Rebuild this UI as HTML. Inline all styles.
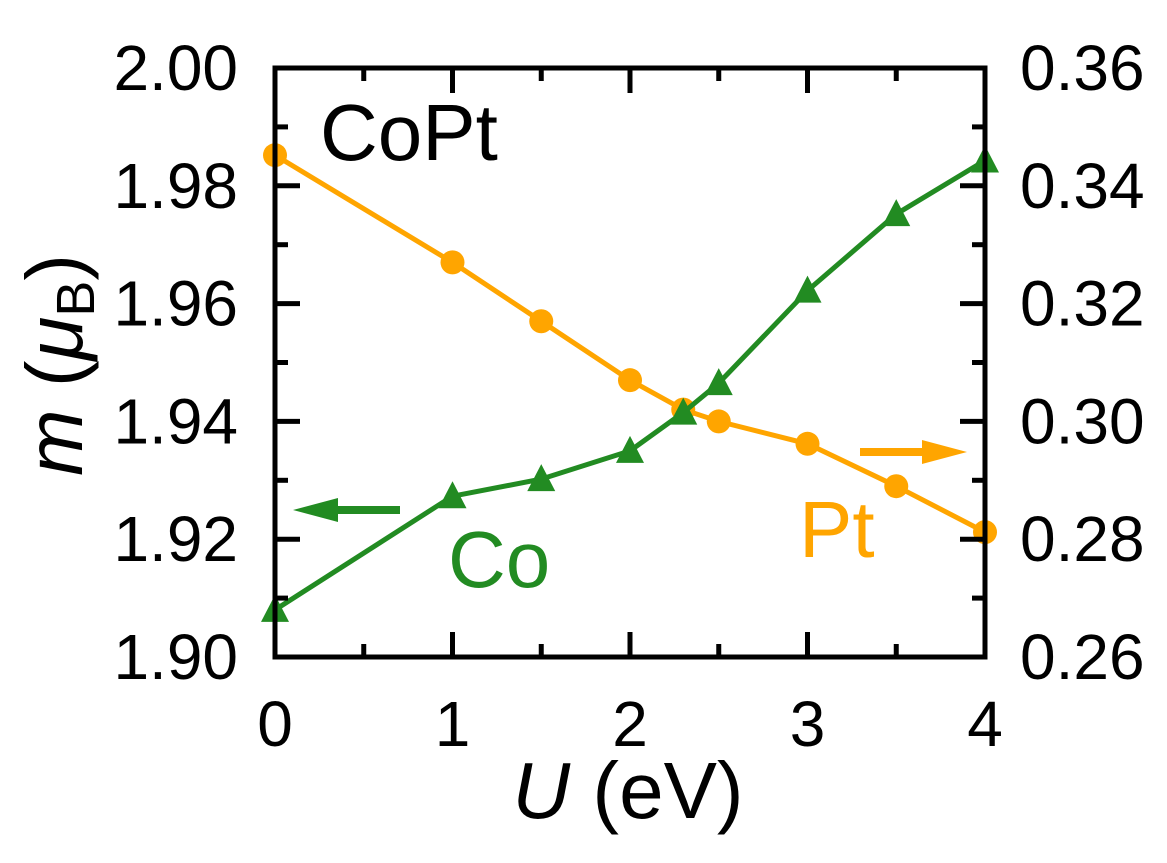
<!DOCTYPE html>
<html><head><meta charset="utf-8"><style>
html,body{margin:0;padding:0;background:#fff;}
svg{display:block;font-family:"Liberation Sans",Arial,sans-serif;}
</style></head><body>
<svg id="chart" width="1167" height="863" viewBox="0 0 1167 863" xmlns="http://www.w3.org/2000/svg">
<g id="marks"></g>
<g id="axes"></g>
</svg>
<script>
const uValues = [0, 1, 1.5, 2, 2.3, 2.5, 3, 3.5, 4];
const coMoments = [1.908, 1.9273, 1.9302, 1.935, 1.9415, 1.9465, 1.9622, 1.9752, 1.9843];
const ptMoments = [0.3452, 0.3270, 0.3170, 0.3070, 0.3020, 0.3000, 0.2962, 0.2890, 0.2812];
const xTicks = [0, 1, 2, 3, 4];
const leftTicks = ["1.90","1.92","1.94","1.96","1.98","2.00"];
const rightTicks = ["0.26","0.28","0.30","0.32","0.34","0.36"];

const L=275,R=985,T=68,B=657;
const NS="http://www.w3.org/2000/svg";
const xs=u=>L+(u-0)/(4-0)*(R-L);
const yl=v=>B-(v-1.90)/(2.00-1.90)*(B-T);
const yr=v=>B-(v-0.26)/(0.36-0.26)*(B-T);
const marks=document.getElementById('marks'), axes=document.getElementById('axes');
function mk(tag,attrs,parent){const e=document.createElementNS(NS,tag);for(const k in attrs)e.setAttribute(k,attrs[k]);parent.appendChild(e);return e;}

const ptLine=mk('polyline',{points:uValues.map((u,i)=>xs(u)+','+yr(ptMoments[i])).join(' '),fill:'none',stroke:'#FFA500','stroke-width':5},marks);


uValues.forEach((u,i)=>{
  const c=mk('circle',{cx:xs(u),cy:yr(ptMoments[i]),r:12,fill:'#FFA500'},marks);
  
  
});
const coLine=mk('polyline',{points:uValues.map((u,i)=>xs(u)+','+yl(coMoments[i])).join(' '),fill:'none',stroke:'#228B22','stroke-width':5},marks);


uValues.forEach((u,i)=>{
  const x=xs(u),y=yl(coMoments[i]);
  const p=mk('polygon',{points:`${x-14},${y+12} ${x+14},${y+12} ${x},${y-15}`,fill:'#228B22'},marks);
  
  
});

const fr=mk('rect',{x:L,y:T,width:R-L,height:B-T,fill:'none',stroke:'#000','stroke-width':5},axes);


for(let k=0;k<=8;k++){
  const u=k*0.5,x=xs(u),len=(k%2==0)?25:13;
  const t1=mk('line',{x1:x,y1:B,x2:x,y2:B-len,stroke:'#000','stroke-width':5},axes);
  
  
  const t2=mk('line',{x1:x,y1:T,x2:x,y2:T+len,stroke:'#000','stroke-width':5},axes);
  
  
}
xTicks.forEach(u=>{
  const t=mk('text',{x:xs(u),y:746,'font-size':64,'text-anchor':'middle'},axes);t.textContent=u;
  
  
});
for(let k=0;k<=10;k++){
  const y=B-k/10*(B-T),len=(k%2==0)?25:13;
  const a=mk('line',{x1:L,y1:y,x2:L+len,y2:y,stroke:'#000','stroke-width':5},axes);
  
  
  const b=mk('line',{x1:R,y1:y,x2:R-len,y2:y,stroke:'#000','stroke-width':5},axes);
  
  
}
leftTicks.forEach(s=>{
  const t=mk('text',{x:238,y:yl(parseFloat(s))+22,'font-size':64,'text-anchor':'end'},axes);t.textContent=s;
  
  
});
rightTicks.forEach(s=>{
  const t=mk('text',{x:1020,y:yr(parseFloat(s))+22,'font-size':64,'text-anchor':'start'},axes);t.textContent=s;
  
  
});
</script>
<svg style="position:absolute;left:0;top:0" width="1167" height="863" font-family="Liberation Sans, Arial, sans-serif">
  <text x="320" y="160" font-size="80">CoPt</text>
  <text x="448" y="587" font-size="80" fill="#228B22">Co</text>
  <text x="799" y="557" font-size="80" fill="#FFA500">Pt</text>
  <g>
    <line x1="400" y1="510" x2="330" y2="510" stroke="#228B22" stroke-width="8"/>
    <polygon points="293,510 338,498 338,522" fill="#228B22"/>
  </g>
  <g>
    <line x1="860" y1="452" x2="930" y2="452" stroke="#FFA500" stroke-width="8"/>
    <polygon points="967,452 922,440 922,464" fill="#FFA500"/>
  </g>
  <text transform="translate(82,365) rotate(-90)" font-size="80" text-anchor="middle"><tspan font-style="italic">m</tspan> (<tspan font-style="italic">μ</tspan><tspan font-size="54" dy="12">B</tspan><tspan dy="-12">)</tspan></text>
  <text x="628" y="818" font-size="80" text-anchor="middle"><tspan font-style="italic">U</tspan> (eV)</text>
</svg>
</body></html>
